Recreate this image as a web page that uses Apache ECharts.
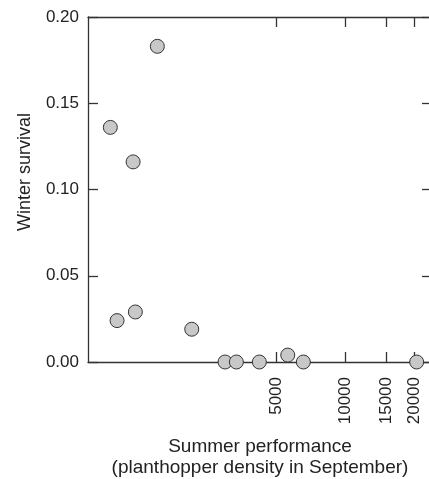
<!DOCTYPE html>
<html><head><meta charset="utf-8">
<script src="https://cdn.jsdelivr.net/npm/echarts@6/dist/echarts.min.js"></script>
<style>html,body{margin:0;padding:0;background:#fff}#c{width:429px;height:479px}</style>
</head><body><div id="c"></div>
<script>
// Summer performance (planthopper density in September) vs winter survival
const density = [948, 1191, 1518, 1014, 1218, 2143, 2991, 3350, 4218, 5606, 6553, 20400];
const survival = [0.136, 0.116, 0.183, 0.024, 0.029, 0.019, 0.000, 0.000, 0.000, 0.004, 0.000, 0.000];
const xTicks = [5000, 10000, 15000, 20000];
const yTicks = [0, 0.05, 0.10, 0.15, 0.20];
const xName = 'Summer performance\n(planthopper density in September)';
const yName = 'Winter survival';

const font = '"Liberation Sans", Arial, sans-serif';
const ink = '#222';
const line = {lineStyle: {color: '#333', width: 1.3}};
const chart = echarts.init(document.getElementById('c'), null, {renderer: 'canvas'});
const xBase = {
  type: 'log', logBase: 10, min: 758, max: 23780,
  axisLine: {show: true, onZero: false, ...line},
  axisTick: {show: true, inside: true, length: 10, customValues: xTicks, ...line},
  splitLine: {show: false}
};
const yBase = {
  type: 'value', min: 0, max: 0.2, interval: 0.05,
  axisLine: {show: true, ...line},
  axisTick: {show: true, inside: true, length: 10, ...line},
  splitLine: {show: false}
};
chart.setOption({
  animation: false,
  grid: {left: 88, right: -3, top: 17, bottom: 117, outerBoundsMode: 'none'},
  xAxis: [
    Object.assign({}, xBase, {
      position: 'bottom',
      name: xName, nameLocation: 'middle', nameGap: 74,
      nameTextStyle: {fontFamily: font, fontSize: 19, color: ink, lineHeight: 21},
      axisLabel: {customValues: xTicks, rotate: 90, margin: 15, fontFamily: font, fontSize: 17, color: ink,
        hideOverlap: false, formatter: v => String(Math.round(v))}
    }),
    Object.assign({}, xBase, {position: 'top', axisLabel: {show: false}})
  ],
  yAxis: [
    Object.assign({}, yBase, {
      position: 'left',
      axisLabel: {margin: 9, fontFamily: font, fontSize: 17, color: ink, formatter: v => v.toFixed(2)}
    }),
    Object.assign({}, yBase, {position: 'right', axisLabel: {show: false}})
  ],
  graphic: [{
    type: 'text', x: 25, y: 172, rotation: Math.PI / 2,
    style: {text: yName, fontFamily: font, fontSize: 18, fill: ink, align: 'center', verticalAlign: 'middle'}
  }],
  series: [{
    type: 'scatter', xAxisIndex: 0, yAxisIndex: 0,
    symbol: 'circle', symbolSize: 14,
    itemStyle: {color: '#c8c8c8', borderColor: '#333', borderWidth: 1, opacity: 1},
    data: density.map((d, i) => [d, survival[i]])
  }]
});
</script></body></html>
